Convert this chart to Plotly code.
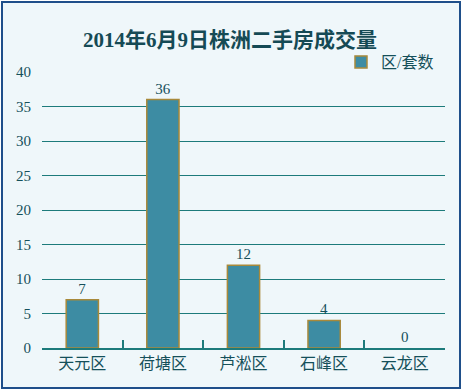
import plotly.graph_objects as go

categories = ["天元区", "荷塘区", "芦淞区", "石峰区", "云龙区"]
values = [7, 36, 12, 4, 0]
series_name = "区/套数"
title_text = "2014年6月9日株洲二手房成交量"

W, H = 463, 391
L, R, T, B = 42, 18, 72, 43
pw, ph = W - L - R, H - T - B

def px_x(p):
    return (p - L) / pw

def px_y(p):
    return (H - B - p) / ph

FONT = "Liberation Serif, Noto Sans CJK SC, serif"
TXT = "#15505a"
GRID = "#1d7b7b"

fig = go.Figure()
fig.add_trace(go.Bar(
    x=categories, y=values, name=series_name,
    marker=dict(color="#3d8ca3",
                line=dict(color="#a8893a", width=[1.5 if v > 0 else 0 for v in values])),
    text=[str(v) for v in values], textposition="outside",
    textfont=dict(family=FONT, size=15, color=TXT),
    cliponaxis=False,
))

fig.update_layout(
    width=W, height=H,
    margin=dict(l=L, r=R, t=T, b=B, pad=0),
    paper_bgcolor="white",
    plot_bgcolor="rgba(0,0,0,0)",
    bargap=0.6,
    showlegend=True,
    legend=dict(orientation="h", x=px_x(439), xanchor="right", y=px_y(62), yanchor="middle",
                bgcolor="rgba(0,0,0,0)", font=dict(family=FONT, size=16, color=TXT),
                itemwidth=30, tracegroupgap=0),
    title=dict(text="<b>" + title_text + "</b>", x=0.497, xanchor="center",
               y=1 - 40 / H, yanchor="middle",
               font=dict(family=FONT, size=21, color="#154a55")),
    font=dict(family=FONT, color=TXT),
    shapes=[dict(type="rect", xref="paper", yref="paper",
                 x0=px_x(2), x1=px_x(460), y0=px_y(388), y1=px_y(2),
                 line=dict(color="#1f4f8a", width=2), fillcolor="#eff7fa", layer="below")],
)
fig.update_xaxes(
    type="category", showgrid=False, showline=True, linecolor=GRID, linewidth=1.5,
    ticks="inside", tickson="boundaries", ticklen=8, tickcolor=GRID, tickwidth=1.5,
    tickfont=dict(family=FONT, size=16, color=TXT), mirror=False,
)
fig.update_yaxes(
    range=[0, 40], dtick=5, showgrid=True, gridcolor=GRID, gridwidth=1.2,
    showline=False, zeroline=False, ticks="", ticklabelstandoff=10,
    tickfont=dict(family=FONT, size=15, color=TXT),
)

fig.write_html(
    "out.html",
    config={"displayModeBar": False},
    post_script="document.body.style.margin='0';document.body.style.overflow='hidden';",
)
